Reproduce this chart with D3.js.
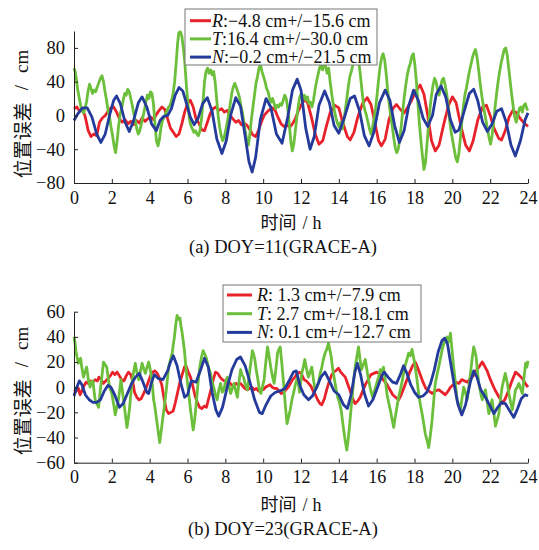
<!DOCTYPE html>
<html><head><meta charset="utf-8">
<script src="https://cdn.jsdelivr.net/npm/d3@7"></script>
<style>body{margin:0;background:#fff}</style>
</head><body><svg id="c" width="539" height="550"></svg>
<script>
// ---------- data ----------
const hourTicks = [0,2,4,6,8,10,12,14,16,18,20,22,24];
const yTicksA = [-80,-40,0,40,80];
const yTicksB = [-60,-40,-20,0,20,40,60];
const seriesKeys = ["R","T","N"];
const legendA = [":\u22124.8 cm+/\u221215.6 cm", ":16.4 cm+/\u221230.0 cm", ":\u22120.2 cm+/\u221221.5 cm"];
const legendB = [": 1.3 cm+/\u22127.9 cm", ": 2.7 cm+/\u221218.1 cm", ": 0.1 cm+/\u221212.7 cm"];
const captionA = "(a) DOY=11(GRACE-A)";
const captionB = "(b) DOY=23(GRACE-A)";

// Panel (a): [hour, cm]
const aR = [[0,8],[0.15,10],[0.3,5],[0.45,8],[0.6,-2],[0.75,-18],[0.9,-25],[1.05,-22],[1.2,-24],[1.35,-8],[1.5,-3],[1.65,0],[1.8,5],[1.95,9],[2.1,10],[2.25,4],[2.4,-4],[2.55,-8],[2.7,-5],[2.85,-10],[3.0,-7],[3.15,-11],[3.3,-6],[3.45,-9],[3.6,-3],[3.75,-7],[3.9,-4],[4.05,-2],[4.2,-5],[4.35,1],[4.5,6],[4.65,10],[4.8,7],[4.95,-4],[5.1,-15],[5.25,-20],[5.4,-25],[5.55,-22],[5.7,-10],[5.85,4],[6.0,14],[6.15,18],[6.3,10],[6.45,-4],[6.6,-9],[6.75,-17],[6.9,-18],[7.05,-8],[7.2,2],[7.35,8],[7.5,10],[7.65,6],[7.8,8],[7.95,4],[8.1,6],[8.25,0],[8.4,-4],[8.55,-8],[8.7,-6],[8.85,-11],[9.0,-9],[9.15,-12],[9.3,-17],[9.45,-23],[9.6,-25],[9.75,-18],[9.9,-8],[10.05,0],[10.2,4],[10.35,7],[10.5,9],[10.65,5],[10.8,-3],[10.95,-10],[11.1,-13],[11.25,-11],[11.4,-14],[11.55,-10],[11.7,-4],[11.85,5],[12.0,12],[12.2,19],[12.35,15],[12.55,-2],[12.75,-22],[12.95,-34],[13.15,-30],[13.35,-12],[13.55,4],[13.8,12],[14.0,9],[14.2,-8],[14.45,-25],[14.6,-29],[14.8,-20],[15.0,-2],[15.25,14],[15.5,21],[15.7,13],[15.9,-8],[16.1,-30],[16.25,-36],[16.45,-28],[16.65,-5],[16.85,8],[17.05,13],[17.25,7],[17.45,3],[17.65,10],[17.85,18],[18.05,28],[18.3,36],[18.5,25],[18.7,0],[18.9,-30],[19.1,-42],[19.3,-35],[19.55,-10],[19.8,12],[20.0,22],[20.2,15],[20.45,-12],[20.7,-35],[20.9,-42],[21.1,-30],[21.35,-5],[21.6,10],[21.8,12],[22.0,0],[22.2,-15],[22.45,-27],[22.6,-29],[22.8,-18],[23.0,-2],[23.2,6],[23.4,3],[23.6,-4],[23.8,-9],[24,-13]];
const aT = [[0,56],[0.06,52],[0.12,44],[0.2,30],[0.28,20],[0.35,12],[0.42,6],[0.5,3],[0.58,8],[0.66,16],[0.74,28],[0.82,37],[0.9,32],[0.98,26],[1.06,30],[1.14,28],[1.22,33],[1.3,38],[1.4,44],[1.48,47],[1.56,40],[1.64,28],[1.72,18],[1.8,6],[1.88,-2],[1.96,-14],[2.04,-24],[2.12,-36],[2.2,-44],[2.28,-30],[2.36,-12],[2.44,2],[2.52,8],[2.6,18],[2.68,26],[2.76,24],[2.84,31],[2.92,28],[3.0,20],[3.08,12],[3.16,2],[3.24,-6],[3.32,-16],[3.4,-22],[3.48,-18],[3.56,-10],[3.64,-2],[3.72,6],[3.8,16],[3.88,24],[3.96,20],[4.04,28],[4.12,26],[4.2,14],[4.28,-10],[4.36,-30],[4.44,-36],[4.52,-28],[4.6,-14],[4.68,-6],[4.76,-2],[4.84,2],[4.92,6],[5.0,10],[5.08,12],[5.16,18],[5.24,26],[5.32,40],[5.4,62],[5.48,86],[5.54,98],[5.62,99],[5.7,94],[5.78,80],[5.86,62],[5.94,36],[6.02,14],[6.1,-4],[6.18,-12],[6.26,-16],[6.34,-20],[6.42,-18],[6.5,-22],[6.58,-24],[6.66,-18],[6.74,-4],[6.82,16],[6.9,40],[6.98,52],[7.06,56],[7.14,50],[7.22,54],[7.3,48],[7.38,52],[7.46,40],[7.54,20],[7.62,0],[7.7,-14],[7.78,-24],[7.86,-30],[7.94,-26],[8.02,-18],[8.1,-8],[8.18,2],[8.26,14],[8.34,26],[8.42,34],[8.5,38],[8.58,33],[8.66,28],[8.74,22],[8.82,12],[8.9,4],[8.98,-8],[9.06,-20],[9.14,-30],[9.22,-35],[9.3,-22],[9.38,-4],[9.46,10],[9.54,24],[9.62,38],[9.7,46],[9.78,56],[9.86,60],[9.94,52],[10.02,46],[10.1,40],[10.18,32],[10.26,28],[10.34,20],[10.42,16],[10.5,20],[10.58,14],[10.66,8],[10.74,12],[10.82,10],[10.9,14],[10.98,12],[11.06,18],[11.14,24],[11.22,20],[11.3,8],[11.38,-10],[11.46,-30],[11.54,-42],[11.62,-34],[11.7,-18],[11.78,-2],[11.86,12],[11.94,22],[12.02,26],[12.1,20],[12.18,24],[12.26,18],[12.34,22],[12.42,14],[12.5,16],[12.58,10],[12.66,18],[12.74,30],[12.82,40],[12.9,48],[12.98,56],[13.06,60],[13.14,54],[13.22,62],[13.3,58],[13.38,50],[13.46,56],[13.54,40],[13.62,26],[13.7,14],[13.78,4],[13.86,-4],[13.94,-10],[14.02,-14],[14.1,-8],[14.18,-16],[14.26,-6],[14.34,6],[14.42,20],[14.5,34],[14.58,46],[14.66,52],[14.74,60],[14.82,66],[14.9,70],[14.98,68],[15.06,62],[15.14,48],[15.22,30],[15.3,14],[15.38,6],[15.46,0],[15.54,-8],[15.62,-16],[15.7,-22],[15.78,-14],[15.86,-4],[15.94,8],[16.02,24],[16.1,42],[16.18,58],[16.26,68],[16.34,73],[16.42,66],[16.5,50],[16.58,30],[16.66,14],[16.74,0],[16.82,-12],[16.9,-26],[16.98,-38],[17.06,-44],[17.14,-40],[17.22,-28],[17.3,-12],[17.38,6],[17.46,22],[17.54,36],[17.62,48],[17.7,56],[17.78,62],[17.86,70],[17.94,73],[18.02,60],[18.1,40],[18.18,14],[18.26,-10],[18.34,-30],[18.42,-48],[18.5,-64],[18.58,-56],[18.66,-34],[18.74,-12],[18.82,8],[18.9,24],[18.98,36],[19.06,44],[19.14,40],[19.22,30],[19.3,24],[19.38,34],[19.46,42],[19.54,44],[19.62,36],[19.7,26],[19.78,12],[19.86,-6],[19.94,-20],[20.02,-30],[20.1,-40],[20.18,-50],[20.26,-55],[20.34,-46],[20.42,-28],[20.5,-8],[20.58,10],[20.66,24],[20.74,32],[20.82,42],[20.9,52],[20.98,60],[21.06,68],[21.14,74],[21.22,78],[21.3,70],[21.38,56],[21.46,40],[21.54,26],[21.62,14],[21.7,4],[21.78,-6],[21.86,-16],[21.94,-26],[22.02,-34],[22.1,-24],[22.18,-8],[22.26,10],[22.34,26],[22.42,40],[22.5,52],[22.58,62],[22.66,70],[22.74,78],[22.82,80],[22.9,72],[22.98,56],[23.06,40],[23.14,24],[23.22,10],[23.3,-2],[23.38,-8],[23.46,0],[23.54,8],[23.62,10],[23.7,4],[23.78,12],[23.86,14],[23.94,8],[24,6]];
const aN = [[0,-6],[0.2,2],[0.45,9],[0.7,9],[0.95,-2],[1.2,-22],[1.42,-32],[1.65,-22],[1.9,2],[2.1,18],[2.25,23],[2.45,14],[2.7,-8],[2.92,-19],[3.15,-6],[3.4,15],[3.6,22],[3.85,10],[4.1,-10],[4.35,-18],[4.55,-6],[4.75,-1],[4.95,0],[5.15,8],[5.35,24],[5.55,33],[5.75,29],[5.95,14],[6.15,-2],[6.35,-11],[6.55,-4],[6.8,14],[7.05,21],[7.3,5],[7.55,-28],[7.82,-45],[8.05,-30],[8.3,2],[8.55,21],[8.8,11],[9.05,-25],[9.25,-55],[9.42,-67],[9.6,-50],[9.85,-5],[10.15,20],[10.4,10],[10.7,-22],[11.0,-33],[11.3,-2],[11.55,30],[11.8,43],[12.0,30],[12.25,-15],[12.48,-40],[12.7,-25],[12.95,12],[13.25,29],[13.5,15],[13.75,-12],[14.0,-21],[14.3,-2],[14.6,20],[14.83,23],[15.1,5],[15.35,-24],[15.6,-36],[15.85,-20],[16.15,15],[16.45,30],[16.7,18],[16.95,-12],[17.2,-32],[17.45,-18],[17.7,12],[17.95,30],[18.2,18],[18.45,-3],[18.7,-13],[18.95,0],[19.15,25],[19.4,35],[19.65,22],[19.9,-5],[20.15,-20],[20.35,-17],[20.6,3],[20.9,26],[21.13,31],[21.35,17],[21.6,-8],[21.85,-19],[22.1,-10],[22.35,5],[22.6,8],[22.85,-8],[23.1,-35],[23.33,-48],[23.6,-30],[23.85,-5],[24,3]];

// Panel (b): [hour, cm]
const bR = [[0,-2],[0.12,-3],[0.24,-1],[0.32,-6],[0.42,-3],[0.52,1],[0.64,4],[0.76,3],[0.88,5],[1.0,4],[1.12,6],[1.24,5],[1.32,8],[1.44,6],[1.56,3],[1.68,5],[1.8,7],[1.92,9],[2.04,12],[2.16,10],[2.28,12],[2.4,9],[2.52,6],[2.64,5],[2.76,9],[2.88,12],[3.0,10],[3.1,5],[3.2,-4],[3.32,-8],[3.44,-10],[3.56,-9],[3.68,-5],[3.8,-1],[3.92,4],[4.04,9],[4.16,12],[4.28,13],[4.4,11],[4.52,7],[4.64,2],[4.76,-9],[4.88,-18],[5.0,-21],[5.12,-20],[5.24,-19],[5.36,-12],[5.48,-4],[5.6,4],[5.72,10],[5.84,16],[5.92,17],[6.04,12],[6.16,8],[6.28,1],[6.4,-7],[6.52,-12],[6.64,-16],[6.76,-17],[6.88,-15],[7.0,-16],[7.12,-9],[7.24,-2],[7.36,6],[7.48,12],[7.6,11],[7.72,8],[7.84,6],[7.96,5],[8.08,3],[8.2,4],[8.32,2],[8.44,1],[8.56,3],[8.68,2],[8.8,3],[8.92,1],[9.04,-1],[9.16,-2],[9.28,-1],[9.4,0],[9.52,-2],[9.64,-1],[9.76,-3],[9.88,-2],[10.0,-2],[10.12,0],[10.24,1],[10.36,2],[10.48,0],[10.6,-1],[10.72,-1],[10.84,-3],[10.96,-5],[11.08,-4],[11.2,-2],[11.32,0],[11.44,3],[11.56,6],[11.68,8],[11.8,11],[11.92,12],[12.04,10],[12.16,6],[12.28,5],[12.4,3],[12.52,1],[12.64,-3],[12.76,-6],[12.88,-10],[13.0,-13],[13.1,-14],[13.24,-9],[13.36,-2],[13.48,4],[13.6,9],[13.72,12],[13.84,13],[13.98,15],[14.1,12],[14.22,10],[14.34,8],[14.46,3],[14.58,-2],[14.7,-8],[14.86,-13],[15.0,-11],[15.13,-8],[15.26,-3],[15.4,2],[15.55,6],[15.7,10],[15.85,11],[16.0,12],[16.12,11],[16.25,8],[16.4,5],[16.55,2],[16.7,-2],[16.85,-6],[17.0,-8],[17.16,-10],[17.3,-6],[17.45,0],[17.6,6],[17.75,12],[17.9,17],[18.04,20],[18.15,16],[18.3,10],[18.45,4],[18.6,-1],[18.75,-3],[18.93,-5],[19.1,-3],[19.28,-2],[19.45,-4],[19.63,-6],[19.78,-3],[19.9,0],[20.05,2],[20.2,4],[20.35,3],[20.5,6],[20.65,5],[20.8,4],[20.95,7],[21.1,9],[21.3,14],[21.45,17],[21.58,20],[21.7,17],[21.84,13],[21.96,8],[22.1,3],[22.25,-2],[22.4,-6],[22.55,-10],[22.65,-13],[22.8,-9],[22.99,-2],[23.15,5],[23.34,12],[23.5,10],[23.7,7],[23.85,3],[24,0]];
const bT = [[0,40],[0.05,36],[0.1,29],[0.16,24],[0.23,19],[0.3,22],[0.35,23],[0.42,15],[0.5,8],[0.58,12],[0.67,16],[0.76,6],[0.85,0],[0.92,4],[1.0,5],[1.06,-3],[1.12,-10],[1.2,-13],[1.3,-16],[1.38,-4],[1.47,8],[1.56,20],[1.64,18],[1.73,16],[1.8,8],[1.88,0],[1.95,-3],[2.0,-5],[2.1,-14],[2.18,-22],[2.26,-16],[2.35,-10],[2.42,-2],[2.48,6],[2.55,-2],[2.62,-10],[2.7,-20],[2.8,-32],[2.88,-24],[2.94,-16],[3.0,-6],[3.06,3],[3.15,12],[3.24,19],[3.32,12],[3.42,6],[3.5,12],[3.6,19],[3.68,15],[3.77,11],[3.86,16],[3.95,20],[4.04,13],[4.12,6],[4.21,-10],[4.28,-16],[4.35,-24],[4.44,-34],[4.53,-44],[4.6,-36],[4.7,-24],[4.8,-12],[4.88,-2],[4.95,8],[5.0,16],[5.1,22],[5.19,27],[5.25,34],[5.31,40],[5.38,50],[5.45,57],[5.52,54],[5.6,55],[5.66,48],[5.72,43],[5.78,36],[5.84,29],[5.9,18],[5.98,6],[6.07,-6],[6.16,-18],[6.23,-26],[6.3,-34],[6.38,-26],[6.48,-10],[6.56,4],[6.65,16],[6.74,24],[6.83,29],[6.92,26],[7.0,23],[7.1,16],[7.22,11],[7.3,4],[7.4,-1],[7.48,-6],[7.57,-10],[7.66,-2],[7.75,3],[7.84,-4],[7.93,-2],[8.0,4],[8.1,8],[8.2,1],[8.28,-5],[8.37,-1],[8.46,3],[8.55,-3],[8.64,-8],[8.72,4],[8.81,14],[8.88,10],[8.96,8],[9.06,2],[9.17,-2],[9.3,14],[9.43,29],[9.5,26],[9.56,22],[9.63,14],[9.7,8],[9.8,-2],[9.88,-5],[9.96,0],[10.05,6],[10.14,20],[10.23,32],[10.32,24],[10.4,16],[10.5,8],[10.58,3],[10.67,14],[10.76,27],[10.83,30],[10.9,32],[10.98,20],[11.08,3],[11.17,-14],[11.26,-29],[11.34,-24],[11.43,-18],[11.52,-10],[11.6,-5],[11.7,2],[11.82,8],[11.92,-4],[12.04,11],[12.12,16],[12.2,22],[12.3,14],[12.39,8],[12.48,12],[12.57,16],[12.66,6],[12.74,-2],[12.83,0],[12.92,3],[13.0,10],[13.1,16],[13.18,22],[13.27,27],[13.36,30],[13.45,35],[13.52,30],[13.6,24],[13.68,14],[13.77,6],[13.86,-2],[13.94,-8],[14.03,-12],[14.12,-18],[14.18,-25],[14.24,-32],[14.33,-42],[14.42,-50],[14.49,-42],[14.56,-32],[14.64,-18],[14.72,-5],[14.79,6],[14.86,16],[14.95,24],[15.04,32],[15.12,22],[15.2,14],[15.3,18],[15.4,22],[15.48,14],[15.57,6],[15.68,-2],[15.78,-8],[15.9,-2],[16.0,3],[16.1,8],[16.19,14],[16.28,12],[16.36,16],[16.45,6],[16.54,-5],[16.63,-12],[16.72,-18],[16.81,-25],[16.9,-32],[16.98,-24],[17.07,-16],[17.16,-8],[17.25,-2],[17.34,4],[17.42,11],[17.52,18],[17.6,22],[17.69,27],[17.78,25],[17.87,30],[17.95,24],[18.04,16],[18.13,6],[18.22,-5],[18.31,-14],[18.4,-21],[18.48,-28],[18.57,-37],[18.66,-42],[18.75,-48],[18.84,-38],[18.93,-26],[19.02,-10],[19.1,3],[19.19,10],[19.28,16],[19.36,22],[19.45,29],[19.54,34],[19.63,38],[19.72,40],[19.81,36],[19.9,43],[19.98,30],[20.07,16],[20.16,4],[20.25,-10],[20.34,-14],[20.43,-18],[20.52,-8],[20.6,0],[20.69,-4],[20.78,-10],[20.87,0],[20.96,11],[21.04,22],[21.13,32],[21.2,28],[21.26,24],[21.33,12],[21.4,3],[21.49,-4],[21.58,-10],[21.66,-6],[21.75,-2],[21.84,-12],[21.93,-21],[22.02,-16],[22.1,-10],[22.19,-20],[22.28,-31],[22.37,-26],[22.46,-21],[22.54,-10],[22.63,0],[22.72,6],[22.8,11],[22.9,4],[22.99,-5],[23.08,-12],[23.17,-18],[23.26,-10],[23.34,-2],[23.43,0],[23.52,3],[23.61,-1],[23.7,-5],[23.78,6],[23.87,19],[23.94,16],[24,21]];
const bN = [[0,-7],[0.15,0],[0.28,5],[0.42,2],[0.6,-6],[0.8,-10],[1.0,-12],[1.2,-12],[1.4,-10],[1.6,-3],[1.8,1.5],[1.95,0],[2.15,-6],[2.4,-16],[2.6,-13],[2.85,-4],[3.05,3],[3.25,8],[3.45,11],[3.65,4],[3.85,-4],[3.95,-5],[4.1,4],[4.25,10],[4.45,7],[4.7,6],[4.95,13],[5.1,20],[5.25,25],[5.45,17],[5.65,3],[5.85,-8],[6.0,-6],[6.2,5],[6.45,4],[6.7,14],[6.9,23],[7.1,16],[7.3,-4],[7.5,-18],[7.65,-23],[7.85,-16],[8.1,0],[8.35,14],[8.6,22],[8.8,24],[9.05,17],[9.3,4],[9.55,-10],[9.8,-20],[9.95,-21],[10.15,-14],[10.4,-7],[10.65,-4],[10.9,-3],[11.15,-1],[11.4,6],[11.6,12],[11.75,13],[11.95,1],[12.15,-6],[12.4,-10],[12.6,-7],[12.8,-1],[13.05,8],[13.27,12],[13.5,5],[13.75,-3],[14.0,-6],[14.25,-14],[14.45,-17],[14.65,-6],[14.85,12],[14.98,19],[15.15,10],[15.35,-5],[15.57,-15],[15.8,-10],[16.05,0],[16.3,10],[16.4,12],[16.6,8],[16.85,4],[17.05,3],[17.25,10],[17.42,17],[17.6,11],[17.8,2],[18.0,-4],[18.22,-8],[18.45,-7],[18.65,-4],[18.85,3],[19.05,14],[19.25,28],[19.45,37],[19.6,39],[19.75,34],[19.9,20],[20.1,2],[20.3,-14],[20.5,-22],[20.7,-14],[20.95,4],[21.13,13],[21.3,8],[21.5,-2],[21.75,-8],[22.0,-15],[22.2,-21],[22.4,-16],[22.6,-12],[22.8,-13],[23.0,-18],[23.25,-24],[23.45,-17],[23.65,-9],[23.85,-6],[24,-7]];

// ---------- drawing ----------
const colors = {R:"#e8222b", T:"#6cbf3b", N:"#243b9b"};
const SERIF = "'Liberation Serif','Times New Roman',serif";
const CJK = "'Noto Sans CJK SC','Noto Sans CJK JP',sans-serif";
const svg = d3.select("#c");

function panel(cfg){
  const g = svg.append("g");
  const x = d3.scaleLinear().domain([0,24]).range([74,528]);
  const y = d3.scaleLinear().domain(cfg.domain).range([cfg.yBottom, cfg.yTop]);
  const line = d3.line().x(d=>x(d[0])).y(d=>y(d[1]));
  cfg.series.forEach((s,i)=>{
    g.append("path").datum(s).attr("d",line).attr("fill","none")
      .attr("stroke",colors[seriesKeys[i]]).attr("stroke-width",2.8)
      .attr("stroke-linejoin","round");
  });
  // axes
  const xa = g.append("g").attr("transform",`translate(0,${cfg.yBottom})`)
    .call(d3.axisBottom(x).tickValues(hourTicks).tickSizeInner(-4).tickSizeOuter(0).tickPadding(10).tickFormat(d3.format("d")));
  xa.attr("font-family",SERIF);
  xa.select(".domain").attr("stroke","#222");
  xa.selectAll(".tick line").attr("stroke","#222");
  xa.selectAll("text").attr("font-family",SERIF).attr("font-size",18).attr("fill","#111").attr("dy","0.71em").attr("y",8);
  const ya = g.append("g").attr("transform","translate(74,0)")
    .call(d3.axisLeft(y).tickValues(cfg.ticks).tickSizeInner(-4).tickSizeOuter(0).tickPadding(9)
      .tickFormat(d=> d<0 ? "\u2212"+Math.abs(d) : String(d)));
  ya.attr("font-family",SERIF);
  ya.select(".domain").attr("stroke","#222");
  ya.selectAll(".tick line").attr("stroke","#222");
  ya.selectAll("text").attr("font-family",SERIF).attr("font-size",18.5).attr("fill","#111");
  // y label
  const yl = g.append("text").attr("transform",`translate(21,${cfg.yLabelC}) rotate(-90)`)
    .attr("text-anchor","middle").attr("dominant-baseline","central").attr("fill","#111");
  yl.append("tspan").attr("font-family",CJK).attr("font-size",19).text("位置误差");
  yl.append("tspan").attr("font-family",SERIF).attr("font-size",19).attr("dx",12).text("/");
  yl.append("tspan").attr("font-family",SERIF).attr("font-size",19).attr("dx",12).text("cm");
  // x label
  const xl = g.append("text").attr("x",291).attr("y",cfg.xLabelY).attr("text-anchor","middle").attr("fill","#111");
  xl.append("tspan").attr("font-family",CJK).attr("font-size",18).text("时间");
  xl.append("tspan").attr("font-family",SERIF).attr("font-size",18).attr("dx",6).text("/");
  xl.append("tspan").attr("font-family",SERIF).attr("font-size",18).attr("dx",5).text("h");
  // caption
  g.append("text").attr("x",283).attr("y",cfg.captionY).attr("text-anchor","middle")
    .attr("font-family",SERIF).attr("font-size",18.5).attr("fill","#111").text(cfg.caption);
  // legend
  const L = cfg.legend;
  g.append("rect").attr("x",L.x).attr("y",L.y).attr("width",L.w).attr("height",L.h)
    .attr("fill","#fff").attr("stroke","#777").attr("stroke-width",1);
  cfg.labels.forEach((t,i)=>{
    const cy = L.row0 + i*L.dy;
    g.append("line").attr("x1",L.lx1).attr("x2",L.lx2).attr("y1",cy).attr("y2",cy)
      .attr("stroke",colors[seriesKeys[i]]).attr("stroke-width",3);
    const tx = g.append("text").attr("x",L.tx).attr("y",cy+6).attr("font-family",SERIF)
      .attr("font-size",18).attr("fill","#111");
    tx.append("tspan").attr("font-style","italic").text(seriesKeys[i]);
    tx.append("tspan").text(t);
  });
}

panel({series:[aR,aT,aN], domain:[-80,100], ticks:yTicksA, yTop:31, yBottom:183,
  yLabelC:114, xLabelY:229, captionY:253, caption:captionA, labels:legendA,
  legend:{x:185,y:9,w:192,h:56,lx1:190,lx2:211,tx:212,row0:20.7,dy:18.2}});
panel({series:[bR,bT,bN], domain:[-60,60], ticks:yTicksB, yTop:311.7, yBottom:462.7,
  yLabelC:391, xLabelY:511, captionY:535, caption:captionB, labels:legendB,
  legend:{x:223,y:285,w:198,h:57,lx1:227,lx2:252,tx:257,row0:295,dy:18.7}});
</script>
</body></html>
